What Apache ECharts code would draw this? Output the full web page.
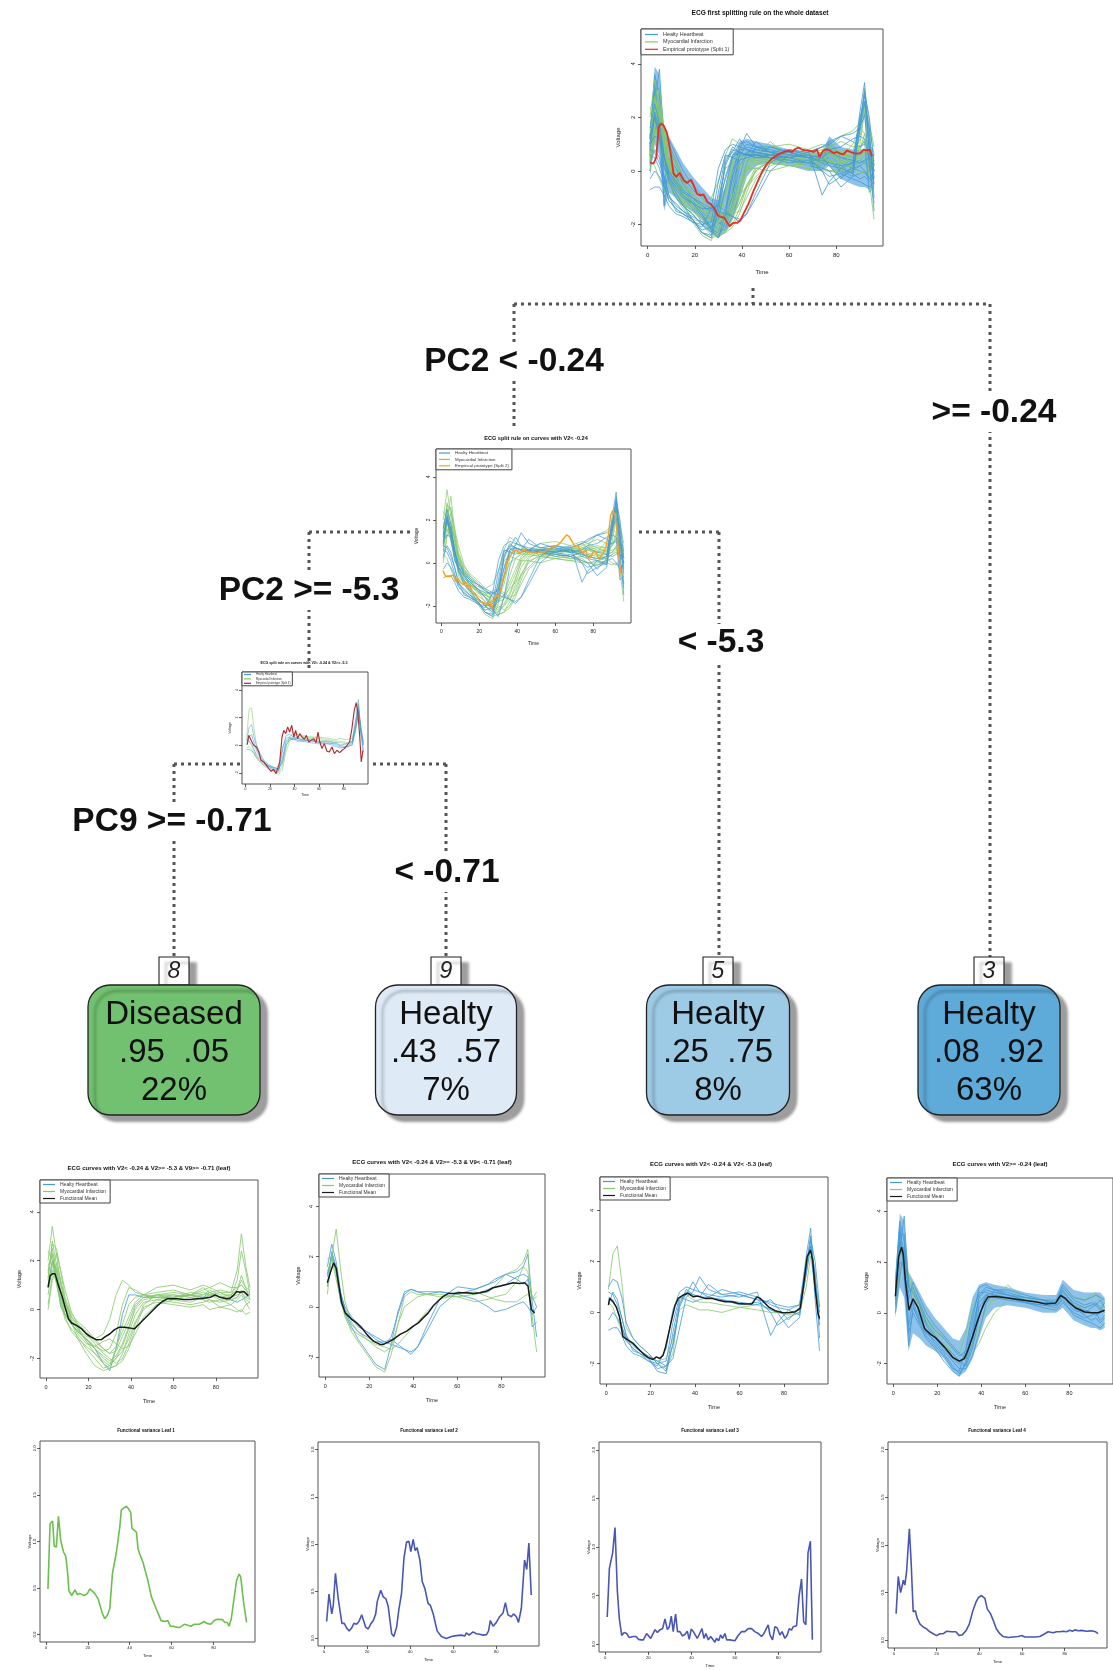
<!DOCTYPE html>
<html>
<head>
<meta charset="utf-8">
<script src="https://cdn.jsdelivr.net/npm/echarts@6.0.0/dist/echarts.min.js"></script>
<style>
  html, body { margin: 0; padding: 0; background: #fff; }
  #chart { width: 1113px; height: 1670px; }
</style>
</head>
<body>
<div id="chart"></div>
<script>
// ---- data ----
// common sampling grid for the individual ECG curves
const timeGrid = [1,3,5,7,9, 12,15,19,23,27, 30,33,36,39,42, 46,52,60,68,74, 77,82,87,90,92, 94,96];

// leaf 1 (V2< -0.24 & V2>= -5.3 & V9>= -0.71)
const leaf1Green = [
  [1.2,2.8,1.8,0.6,-0.2, -0.6,-0.9,-1.2,-1.5,-1.7, -1.6,-1.0,0.2,0.9,0.8, 0.6,0.5,0.4,0.6,0.5, 0.6,0.5,0.5,1.2,2.4, 1.6,0.6],
  [2.0,3.4,2.2,1.0,0.3, -0.4,-0.8,-1.3,-1.8,-2.1, -2.3,-2.0,-1.5,-0.8,0.1, 0.5,0.6,0.5,0.7,0.6, 0.8,0.6,0.6,0.8,1.2, 0.9,0.4],
  [0.6,1.8,2.3,1.6,0.8, -0.1,-0.6,-1.0,-1.4,-1.8, -2.0,-2.2,-2.0,-1.4,-0.6, 0.2,0.6,0.7,0.6,0.9, 0.7,0.8,0.7,0.9,1.0, 0.8,0.7],
  [1.5,2.5,1.5,0.4,-0.3, -0.9,-1.2,-1.5,-1.8,-2.2, -2.4,-2.3,-1.8,-1.0,-0.2, 0.3,0.4,0.3,0.2,0.3, 0.4,0.1,0.2,0.4,0.6, 0.3,0.0],
  [1.8,2.2,1.4,0.5,0.0, -0.5,-0.8,-1.1,-1.2,-1.0, -0.4,0.6,1.2,1.0,0.7, 0.6,0.5,0.5,0.6,0.7, 0.6,0.7,0.5,0.6,0.7, 0.5,0.4],
  [0.2,1.4,1.9,1.2,0.4, -0.3,-0.7,-1.3,-1.6,-2.0, -2.2,-2.0,-1.7,-1.2,-0.5, 0.0,0.4,0.5,0.6,0.4, 0.3,0.4,0.2,0.0,-0.1, 0.2,0.3],
  [2.4,2.0,1.0,0.2,-0.4, -0.8,-1.1,-1.6,-2.0,-2.4, -2.3,-1.6,-0.6,0.2,0.5, 0.6,0.7,0.8,0.6,0.8, 0.9,0.7,0.7,1.6,3.1, 1.8,0.9],
  [0.9,2.0,1.6,0.8,0.1, -0.5,-1.0,-1.4,-1.5,-1.3, -1.2,-1.4,-1.6,-1.5,-1.0, -0.3,0.2,0.4,0.3,0.5, 0.4,0.3,0.4,0.5,0.8, 0.6,0.5],
  [1.3,2.7,2.5,1.5,0.5, -0.2,-0.5,-0.8,-1.2,-1.6, -1.8,-1.5,-0.9,-0.3,0.3, 0.6,0.9,1.0,0.8,1.0, 0.9,1.1,0.9,0.9,1.0, 0.8,0.6],
  [0.0,1.2,1.7,1.1,0.2, -0.5,-1.2,-1.8,-2.3,-2.5, -2.4,-2.3,-2.1,-1.6,-0.8, 0.1,0.3,0.2,0.1,0.2, 0.0,0.1,0.0,-0.1,0.0, -0.2,-0.1],
  [1.6,2.3,1.2,0.3,-0.2, -0.6,-0.9,-1.2,-1.6,-1.9, -2.1,-1.9,-1.4,-0.7,0.0, 0.4,0.5,0.6,0.5,0.6, 0.7,0.5,0.6,0.8,1.4, 0.9,0.8],
  [1.0,1.6,1.1,0.7,0.3, -0.3,-0.6,-0.9,-1.3,-1.6, -1.8,-1.7,-1.1,-0.5,0.2, 0.5,0.6,0.6,0.5,0.4, 0.6,0.4,0.4,0.5,0.7, 0.4,0.3]
];
const leaf1Blue = [
  [1.0,2.0,1.2,0.1,-0.2, -0.6,-0.9,-1.2,-1.6,-2.2, -2.5,-1.6,-0.2,0.6,0.6, 0.5,0.5,0.5,0.6,0.5, 0.7,0.5,0.4,0.3,0.4, 0.5,0.6]
];
const leaf1Mean = [[1,.91],[2,1.39],[3,1.46],[4.3,1.46],[5.9,.98],[7.5,.57],[9,.1],[10.6,-.38],[12.1,-.55],[14.4,-.65],[16.8,-.79],[19.1,-1.0],[21.4,-1.13],[23.8,-1.24],[26.1,-1.23],[27.6,-1.13],[30,-1.0],[32.3,-.82],[34.6,-.72],[37,-.72],[39.3,-.75],[41.6,-.79],[43.2,-.65],[45.5,-.45],[47.8,-.25],[50.2,-.04],[52.5,.16],[54.8,.33],[57.1,.44],[59.5,.44],[61.8,.44],[64.9,.41],[68,.41],[71.1,.44],[74.2,.46],[77.3,.5],[79.7,.6],[82,.5],[85.1,.44],[86.6,.46],[88.5,.6],[89.8,.74],[91.3,.71],[93.2,.74],[95.2,.57]];

// leaf 2 (V2< -0.24 & V2>= -5.3 & V9< -0.71)
const leaf2Blue = [
  [1.6,2.5,1.8,0.6,-0.1, -0.5,-0.8,-1.0,-1.3,-1.5, -1.2,-0.3,0.5,0.7,0.6, 0.6,0.6,0.5,0.7,0.9, 1.1,1.3,1.4,1.6,2.1, 0.2,-1.2],
  [1.2,2.1,1.5,0.5,0.0, -0.4,-0.7,-1.0,-1.2,-1.4, -1.5,-1.6,-1.7,-1.8,-1.6, -1.0,0.0,0.6,0.5,0.6, 0.8,0.9,1.2,1.3,1.2, 0.4,0.0],
  [1.3,2.0,1.4,0.2,-0.3, -0.8,-1.3,-1.8,-2.3,-2.5, -1.5,-0.2,0.6,0.7,0.6, 0.5,0.6,0.5,0.3,0.0, -0.2,-0.1,0.1,0.2,0.0, -0.3,0.0],
  [0.8,2.2,1.6,0.5,-0.2, -0.7,-1.0,-1.2,-1.4,-1.4, -1.3,-1.5,-1.7,-1.9,-1.6, -0.8,0.3,0.8,0.7,0.9, 1.0,1.3,1.1,0.9,1.1, -0.8,-0.6]
];
const leaf2Green = [
  [0.5,2.0,3.1,1.5,0.2, -0.6,-1.0,-1.3,-1.6,-1.8, -1.6,-0.7,0.4,0.6,0.5, 0.5,0.4,0.4,0.5,0.7, 0.8,1.3,1.5,1.8,2.3, -0.4,-1.8],
  [1.9,2.0,1.3,0.3,-0.4, -1.0,-1.4,-1.9,-2.4,-2.6, -1.9,-0.7,0.0,0.2,0.4, 0.5,0.5,0.4,0.2,0.3, 0.4,0.5,1.0,1.6,1.4, 0.3,0.6],
  [1.4,1.9,1.1,0.3,-0.3, -0.9,-1.1,-1.3,-1.5,-1.6, -1.7,-1.5,-1.2,-0.9,-0.6, -0.2,0.3,0.5,0.6,0.4, 0.3,0.2,0.2,0.4,0.5, 0.3,0.4]
];
const leaf2Mean = [[1,.96],[2.3,1.35],[3.8,1.75],[5,1.55],[6,.96],[7.5,.16],[9.1,-.24],[10.6,-.37],[12.1,-.5],[14.3,-.64],[16.6,-.84],[18.9,-1.1],[21.9,-1.37],[24.9,-1.5],[26.4,-1.5],[28.7,-1.41],[30.9,-1.3],[34,-1.1],[37,-.97],[40,-.77],[42.3,-.64],[44.5,-.44],[46.8,-.24],[49,.03],[51.3,.23],[53.6,.42],[55.8,.53],[58.1,.53],[61.1,.56],[64.2,.56],[67.2,.53],[70.2,.56],[73.2,.62],[76.2,.76],[79.2,.82],[82.3,.89],[85.3,.96],[88.3,.93],[90.6,.96],[92.1,.82],[93.6,-.11],[95.1,-.24]];

// leaf 3 (V2< -0.24 & V2< -5.3)
const leaf3Blue = [
  [-0.7,-0.6,-0.6,-0.9,-1.3, -1.6,-1.7,-1.9,-2.1,-1.4, 0.1,0.8,1.0,0.9,0.8, 0.7,0.6,0.7,0.5,0.4, 0.3,0.2,0.3,1.8,3.0, 1.4,-0.3],
  [1.0,1.3,1.2,0.6,-0.4, -1.0,-1.3,-1.6,-2.0,-2.3, -0.8,0.5,0.7,1.2,0.8, 0.6,0.9,0.7,0.5,0.0, -0.5,-0.2,0.0,1.5,2.6, 0.8,0.0],
  [0.3,0.8,0.5,-0.2,-0.9, -1.3,-1.5,-1.8,-2.3,-2.4, -1.2,0.3,0.9,0.7,0.6, 1.1,0.7,0.8,0.6,0.3, 0.2,-0.3,0.2,2.2,3.3, 0.5,-1.5],
  [0.6,0.5,0.1,-0.5,-1.1, -1.4,-1.6,-1.9,-2.0,-1.9, -0.4,0.6,0.5,0.4,0.5, 0.6,0.5,0.4,0.3,0.5, 0.2,0.1,-0.1,1.9,2.8, 1.1,-0.5],
  [-0.3,0.0,-0.2,-0.6,-1.0, -1.2,-1.5,-1.7,-1.9,-2.1, -1.8,-0.6,0.6,0.8,1.4, 0.9,0.7,0.6,0.8,-0.9, -0.4,0.1,0.3,2.0,2.5, 1.6,-1.0],
  [0.8,0.7,0.3,-0.2,-0.9, -1.5,-1.6,-1.8,-2.2,-2.1, -1.3,0.2,0.8,0.7,0.6, 0.6,0.5,0.3,0.4,0.1, 0.0,-0.6,-0.2,1.6,2.9, 2.0,0.2]
];
const leaf3Green = [
  [0.9,2.3,2.6,1.2,-0.6, -1.0,-1.3,-1.6,-2.0,-2.2, -1.6,0.4,0.7,0.5,0.4, 0.4,0.3,0.2,0.1,0.0, 0.0,0.0,0.1,1.5,2.6, 1.2,0.2],
  [0.4,0.2,-0.3,-0.7,-1.1, -1.4,-1.6,-1.8,-1.9,-1.8, -1.0,0.1,0.3,0.2,0.1, 0.1,0.0,0.2,0.3,0.1, 0.0,-0.1,0.0,1.0,2.2, 0.9,0.0]
];
const leaf3Mean = [[1,.29],[1.5,.55],[3,.42],[4.5,.22],[6,-.17],[7.5,-.95],[9.8,-1.08],[12,-1.2],[14.3,-1.41],[16.6,-1.61],[18.8,-1.76],[21.1,-1.84],[22.6,-1.74],[24.1,-1.8],[25.6,-1.67],[26.7,-1.35],[27.9,-.89],[29.4,-.3],[30.9,.25],[32.4,.55],[34.6,.68],[36.9,.75],[39.2,.61],[41.4,.64],[44.4,.55],[47.4,.55],[50.5,.48],[53.5,.42],[56.5,.42],[59.5,.35],[62.5,.33],[65.5,.33],[67.8,.61],[69.3,.55],[70.8,.42],[73,.22],[76,.07],[79.1,0],[82.1,-.01],[85.1,.03],[87.3,.16],[88.9,1.14],[90.4,2.18],[91.9,2.44],[92.9,2.05],[94.1,.88],[95.3,-.04],[96,-.24]];

// leaf 4 (V2>= -0.24): envelope of the dense healthy bundle plus single curves
const leaf4BandLow  = [-0.2,1.0,0.6,-1.5,-0.8, -1.0,-1.3,-1.5,-1.8,-2.3, -2.5,-2.3,-1.8,-1.0,-0.2, 0.2,0.3,0.2,0.0,0.0, 0.2,-0.3,-0.5,-0.6,-0.6, -0.7,-0.6];
const leaf4BandHigh = [1.5,3.9,3.6,1.6,1.3, 0.8,0.3,-0.2,-0.6,-1.0, -1.1,-0.6,0.6,1.1,1.2, 1.1,1.0,0.8,0.7,0.7, 1.3,0.9,0.8,0.8,0.8, 0.8,0.6];
const leaf4Blue = [
  [0.6,3.2,2.4,-0.5,0.5, 0.1,-0.5,-1.0,-1.4,-1.8, -2.0,-1.7,-0.6,0.6,0.9, 0.8,0.7,0.5,0.4,0.4, 0.9,0.3,0.1,0.0,-0.1, 0.0,0.1],
  [0.9,2.5,3.8,1.0,0.8, 0.3,-0.4,-0.9,-1.3,-1.6, -1.9,-2.1,-1.4,-0.2,0.7, 0.8,0.7,0.6,0.5,0.3, 0.7,0.2,-0.1,-0.3,-0.2, -0.4,-0.2],
  [0.3,2.0,1.8,0.2,0.4, -0.2,-0.7,-1.2,-1.6,-2.1, -2.4,-2.0,-1.2,0.2,0.6, 0.7,0.6,0.4,0.3,0.2, 0.6,0.1,0.0,0.2,0.3, 0.1,0.4],
  [1.2,3.6,2.8,0.8,1.0, 0.4,-0.2,-0.7,-1.0,-1.4, -1.7,-1.5,-0.3,1.0,1.1, 0.9,0.8,0.6,0.5,0.5, 1.1,0.6,0.5,0.6,0.7, 0.6,0.5],
  [0.0,1.4,2.6,1.2,0.3, -0.4,-0.9,-1.3,-1.7,-2.2, -2.3,-1.4,0.0,0.8,0.8, 0.7,0.6,0.4,0.3,0.3, 0.5,-0.1,-0.3,-0.4,-0.5, -0.6,-0.4],
  [0.7,2.8,2.0,-1.3,0.2, -0.3,-0.8,-1.1,-1.5,-1.9, -2.2,-2.2,-1.7,-0.8,0.3, 0.9,0.7,0.5,0.4,0.4, 0.8,0.4,0.2,0.3,0.4, 0.2,0.0],
  [0.5,3.0,3.1,0.5,1.2, 0.6,0.0,-0.5,-0.9,-1.3, -1.6,-1.8,-0.9,0.7,1.0, 0.9,0.9,0.7,0.5,0.4, 1.0,0.5,0.3,0.4,0.3, 0.5,0.2],
  [1.0,3.4,1.4,-0.8,0.0, -0.5,-1.0,-1.4,-1.9,-2.3, -2.5,-1.9,-0.9,0.4,0.7, 0.6,0.5,0.4,0.2,0.1, 0.4,0.0,-0.2,-0.1,0.0, -0.3,-0.1]
];
const leaf4Green = [
  [0.4,2.2,2.6,1.4,0.8, 0.2,-0.4,-0.9,-1.3,-1.7, -1.9,-1.8,-1.3,-0.6,0.1, 0.6,1.1,0.5,0.4,0.4, 0.6,0.6,0.5,0.6,0.7, 0.5,0.4],
  [0.8,2.8,2.0,1.0,0.7, 0.3,-0.3,-0.8,-1.2,-1.6, -1.9,-1.7,-1.6,-1.2,-0.6, 0.0,0.5,0.6,0.4,0.3, 0.4,0.3,0.2,0.3,0.3, 0.2,0.1],
  [0.2,1.6,2.2,1.5,0.9, 0.4,-0.2,-0.6,-1.0,-1.4, -1.6,-0.8,0.3,0.6,0.5, 0.5,0.6,0.6,0.5,0.4, 0.8,0.6,0.5,0.7,0.8, 0.6,0.5]
];
const leaf4Mean = [[1,.65],[2.5,2.2],[3.8,2.58],[4.6,2.3],[5.5,1.3],[7.2,.1],[9,.55],[11.3,.2],[14.3,-.63],[17,-.85],[19.5,-1.0],[23.3,-1.35],[27,-1.75],[30,-1.9],[32.3,-1.8],[34,-1.45],[36,-.95],[38,-.4],[40,.1],[41.5,.4],[43,.62],[46.6,.64],[52,.58],[60,.48],[65,.42],[69,.35],[73.7,.38],[76,.68],[78,.58],[80,.4],[82.7,.2],[87,.03],[90,0],[93,0],[96,.1]];

// curves shown in the third split panel
const split3Blue = [
  [0.3,1.3,1.5,0.6,0.0, -0.6,-1.1,-1.4,-1.6,-1.8, -0.2,0.5,0.6,0.5,0.5, 0.4,0.4,0.2,0.3,0.1, 0.0,0.1,0.3,2.0,3.3, 1.0,-0.5],
  [-0.3,-0.3,-0.4,-0.6,-0.9, -1.2,-1.4,-1.6,-1.8,-1.9, -0.5,0.7,0.8,0.6,0.5, 0.4,0.3,0.3,0.2,0.0, -0.1,-0.2,0.1,1.6,2.8, 0.8,-0.3],
  [0.5,0.3,0.1,-0.3,-0.7, -1.0,-1.3,-1.5,-1.7,-1.8, -1.0,0.3,0.5,0.4,0.4, 0.3,0.4,0.2,0.1,0.2, 0.0,-0.1,0.0,1.2,2.4, 1.4,0.0],
  [0.0,0.6,0.8,0.2,-0.4, -0.9,-1.2,-1.5,-1.6,-1.7, -1.3,0.0,0.4,0.5,0.3, 0.3,0.2,0.1,0.1,-0.1, -0.2,-0.1,0.2,1.4,2.6, 1.2,0.3]
];
const split3Green = [
  [0.6,2.6,2.7,1.2,0.0, -0.7,-1.2,-1.5,-1.8,-2.0, -1.5,-0.2,0.6,0.9,0.8, 0.7,0.6,0.6,0.5,0.4, 0.5,0.4,0.5,1.8,3.0, 1.0,0.2],
  [-0.2,-0.1,-0.3,-0.6,-0.9, -1.2,-1.5,-1.7,-1.9,-2.1, -1.8,-0.5,0.3,0.6,0.8, 0.6,0.6,0.5,0.4,0.3, 0.3,0.2,0.3,1.5,2.6, 1.1,0.1],
  [0.1,0.3,0.0,-0.4,-0.8, -1.1,-1.3,-1.5,-1.6,-1.7, -1.2,0.2,0.5,0.4,0.6, 0.5,0.5,0.4,0.3,0.2, 0.2,0.1,0.2,1.2,2.3, 0.9,0.0]
];

// empirical prototypes of the three splits
const proto1 = [[1.1,.31],[2.5,.27],[3.7,.52],[4.7,1.64],[5.7,1.77],[6.8,1.7],[8.2,1.42],[9.6,.77],[11,-.1],[12.2,-.22],[13.6,-.07],[15.3,-.35],[16.7,-.45],[18.4,-.32],[19.5,-.53],[20.9,-.85],[22.3,-.91],[23.7,-.87],[25.4,-1.16],[26.9,-1.24],[28.3,-1.4],[29.7,-1.65],[30.8,-1.71],[32.5,-1.74],[33.6,-1.9],[34.8,-2.06],[36.2,-1.94],[37.9,-1.94],[39.3,-1.84],[40.7,-1.59],[42.8,-1.22],[45,-.72],[46.6,-.41],[48.5,-.04],[50.6,.27],[52.7,.46],[55.5,.62],[57.7,.71],[59.8,.75],[61.2,.71],[62.6,.82],[64,.87],[65.4,.8],[66.9,.77],[69,.75],[70.4,.71],[71.8,.8],[72.9,.52],[74.3,.75],[75.8,.81],[77.5,.75],[78.9,.67],[80.3,.71],[81.7,.65],[83.1,.62],[84.5,.77],[85.9,.71],[87.4,.67],[88.8,.65],[90.2,.67],[91.6,.8],[93,.77],[94.1,.8],[95.1,.55]];
const proto2 = [[.9,-.36],[2.3,-.64],[4.4,-.64],[6.2,-.56],[7.6,-.87],[8.8,-.72],[10,-.9],[11.4,-1.02],[12.7,-.87],[13.7,-1.13],[14.9,-1.02],[16.3,-1.41],[17.6,-1.41],[18.8,-1.61],[20.2,-1.8],[21.6,-1.83],[22.8,-1.88],[24.1,-1.95],[25.5,-1.8],[26.7,-2.14],[27.8,-1.72],[29,-1.49],[30.2,-1.57],[31.3,-1.18],[32.5,-.72],[33.7,-.41],[34.6,.06],[36,.29],[37.3,.44],[38.7,.6],[40.1,.55],[41.3,.44],[43.1,.6],[44.8,.55],[46.6,.47],[48.3,.55],[50.1,.44],[51.8,.52],[53.6,.44],[55.4,.6],[57.1,.67],[58.9,.75],[60.6,.8],[62.4,.91],[64.1,1.11],[65.9,1.3],[67.3,1.22],[68.9,.98],[70.3,.75],[71.7,.83],[73.3,.55],[74.7,.44],[76.1,.6],[77.3,.21],[78.7,.29],[80,.52],[81.2,.55],[82.6,.21],[83.8,.29],[85.2,.44],[86.6,.75],[87.9,1.29],[89.1,2.22],[90.2,2.45],[91.4,2.22],[92.6,1.29],[93.7,.06],[94.4,-.48],[95.4,-.53]];
const proto3 = [[1.4,.05],[2.7,.72],[4.6,.36],[6.8,0],[8.9,-.12],[10.8,-.48],[12.7,-1.08],[14.9,-1.2],[17.1,-1.45],[19,-1.69],[20.9,-1.88],[23,-1.73],[24.9,-2.05],[26.3,-2.17],[27.9,-1.2],[29.8,.6],[31.2,1.08],[32.8,.84],[34.4,1.33],[36,.96],[37.7,1.45],[39.3,.6],[40.9,1.08],[42.5,.48],[44.2,.84],[46.1,.6],[48,.43],[49.6,.72],[51.5,.24],[53.4,.36],[55.6,.48],[57.5,.19],[59.1,.96],[60.4,.29],[62.3,-.24],[64.2,.12],[66.4,-.43],[68.3,-.48],[70.5,-.12],[72.4,-.6],[74.5,-.36],[76.7,-.53],[78.6,-.36],[80.5,-.24],[82.7,0],[84.8,.24],[86.7,1.2],[88.6,2.53],[90.2,3.08],[91.6,2.29],[93,.72],[94.3,-1.2],[95.7,-.36]];

// functional variance per leaf
const variance1 = [[1,.49],[2,1.19],[3.2,1.22],[4,.95],[5,.94],[6,1.27],[7.1,1.01],[8.4,.89],[9.5,.84],[10.4,.66],[11,.47],[12.3,.42],[13.1,.41],[13.9,.48],[15,.43],[16.3,.44],[17,.45],[18.3,.42],[19.8,.44],[21,.49],[21.8,.51],[23.4,.44],[25,.38],[25.9,.37],[26.9,.23],[28.1,.17],[29.4,.21],[30.5,.28],[31.8,.66],[33.7,.89],[35.3,1.16],[36,1.34],[38.4,1.38],[39.5,1.35],[40.5,1.31],[41.1,1.14],[42,1.15],[43.2,1.1],[44,.92],[45.2,.84],[46.3,.78],[48.7,.58],[50.3,.41],[52.6,.28],[55,.15],[56.9,.14],[58.2,.15],[59.4,.09],[61,.09],[62,.08],[63.7,.075],[66,.11],[67.7,.1],[69.2,.09],[70.8,.11],[73.2,.11],[75.6,.14],[76.8,.12],[78.7,.11],[80.3,.15],[81.9,.165],[84.3,.16],[85.4,.13],[86.6,.13],[87.4,.09],[88.5,.17],[89.8,.39],[91,.58],[92.2,.65],[93,.62],[94.2,.37],[95.8,.13]];
const variance2 = [[1.2,.18],[2.3,.47],[3.6,.26],[4.3,.35],[5.3,.69],[6.6,.42],[7.4,.41],[8.3,.16],[9.4,.16],[10.5,.11],[11.7,.08],[12.8,.11],[13.9,.16],[15.1,.15],[16.2,.18],[17.5,.25],[18.2,.23],[19.3,.12],[20.5,.1],[21.6,.15],[22.9,.19],[24,.26],[24.7,.39],[26.3,.51],[27.5,.44],[28.7,.42],[29.8,.34],[30.6,.19],[31.4,.05],[32.4,.02],[33.7,.12],[34.7,.3],[36,.48],[37.1,.85],[38.3,1.02],[39.4,1.03],[40.3,.92],[41.4,1.05],[42.3,.93],[43.2,.96],[44.5,.83],[45.6,.6],[46.8,.53],[47.6,.54],[48.3,.37],[49.4,.35],[50.7,.26],[51.4,.19],[52.5,.08],[54.5,.02],[56.8,0],[59.2,.02],[61.5,.03],[63.8,.035],[65.3,.025],[66.1,.06],[67.3,.035],[69.2,.07],[70.7,.05],[72.3,.045],[73.8,.035],[75.4,.04],[76.4,.08],[77.2,.19],[78.5,.13],[80,.17],[81.5,.23],[83.1,.27],[84.2,.38],[85.4,.25],[87,.23],[88,.26],[89.3,.23],[90.3,.17],[91.6,.32],[93.1,.83],[94.1,.73],[95.1,1.01],[96.2,.46]];
const variance3 = [[1,.28],[2,.78],[2.6,.78],[3.5,.94],[4.6,1.2],[5.7,.54],[6.6,.26],[7.7,.09],[8.8,.12],[10,.11],[11.1,.07],[11.8,.05],[13.1,.08],[14.3,.08],[15.4,.05],[16.6,.045],[17.7,.045],[18.6,.035],[19.2,.11],[20,.12],[21.1,.06],[22,.07],[23.1,.15],[24.2,.12],[25.4,.15],[26.6,.16],[27.7,.26],[28.8,.15],[29.7,.18],[30.6,.29],[31.5,.13],[32.6,.31],[33.5,.13],[34.6,.13],[35.7,.085],[36.9,.1],[38,.135],[38.9,.05],[39.8,.155],[40.8,.13],[41.5,.15],[42.6,.06],[43.5,.1],[44.8,.16],[45.7,.06],[46.6,.11],[47.7,.045],[48.8,.08],[49.7,.06],[50.8,.02],[51.5,.06],[52.5,.035],[53.4,.095],[54.3,.06],[55.4,.11],[56.2,.045],[57.7,.045],[60,.035],[61.5,.09],[63.1,.13],[64.6,.13],[66.2,.16],[67.7,.16],[69.2,.13],[70.8,.11],[72.3,.08],[73.4,.11],[74.3,.15],[75.4,.2],[76.2,.095],[77.4,.045],[78.5,.18],[79.5,.17],[80.8,.095],[81.8,.13],[83.1,.06],[84.2,.095],[85.1,.16],[86.2,.145],[86.9,.18],[88.5,.19],[89.7,.5],[90.8,.67],[91.8,.23],[92.8,.2],[93.8,.94],[94.9,1.06],[95.8,.045]];
const variance4 = [[1,.28],[2,.67],[3.1,.5],[4.4,.63],[5.1,.58],[5.9,.72],[7.2,1.17],[8,.84],[9,.3],[10,.31],[10.9,.23],[12.2,.17],[13.7,.14],[15.3,.12],[16.8,.09],[18.4,.07],[20,.05],[21.5,.07],[23.1,.07],[24.6,.095],[27,.09],[29,.09],[30.6,.05],[32.1,.06],[33.7,.1],[35.3,.17],[36.8,.3],[38.4,.4],[39.6,.45],[41,.47],[42.6,.44],[43.7,.33],[45.2,.28],[46.5,.21],[48,.12],[49.6,.07],[51.2,.04],[53.5,.03],[55.8,.035],[58.2,.04],[59.8,.05],[61.3,.035],[63.7,.035],[66,.035],[68.3,.04],[70.7,.07],[72.2,.09],[74.6,.08],[76.1,.09],[77.7,.09],[79.3,.095],[80.8,.09],[82.4,.105],[83.6,.095],[84.7,.11],[86.3,.1],[87.8,.105],[90.2,.095],[92.5,.1],[94.5,.09],[95.6,.07]];

// tick labels
const timeTicks = [0, 20, 40, 60, 80];
const voltageTicks = [-2, 0, 2, 4];
const varianceTicks = [0, 0.5, 1, 1.5, 2];

// tree content
const splitLabels = ['PC2 < -0.24', '>= -0.24', 'PC2 >= -5.3', '< -5.3', 'PC9 >= -0.71', '< -0.71'];
const nodeIds = ['8', '9', '5', '3'];
const nodeClasses = ['Diseased', 'Healty', 'Healty', 'Healty'];
const nodeProbDiseased = ['.95', '.43', '.25', '.08'];
const nodeProbHealthy = ['.05', '.57', '.75', '.92'];
const nodeShares = ['22%', '7%', '8%', '63%'];

const panelTitles = [
  'ECG first splitting rule on the whole dataset',
  'ECG split rule on curves with V2< -0.24',
  'ECG split rule on curves with V2< -0.24 & V2>= -5.3',
  'ECG curves with V2< -0.24 & V2>= -5.3 & V9>= -0.71 (leaf)',
  'ECG curves with V2< -0.24 & V2>= -5.3 & V9< -0.71 (leaf)',
  'ECG curves with V2< -0.24 & V2< -5.3 (leaf)',
  'ECG curves with V2>= -0.24 (leaf)',
  'Functional variance Leaf 1',
  'Functional variance Leaf 2',
  'Functional variance Leaf 3',
  'Functional variance Leaf 4'
];

// ---- layout / style ----
const FONT = '"Liberation Sans", Arial, Helvetica, sans-serif';
const BLUE = '#4499d8';
const GREEN = '#86c86c';
const INK = '#222';

// plot boxes in px, font sizes and label gaps
const panels = [
  { x: 641, y: 29,   w: 242, h: 217, kind: 'ecg', fs: 6,   xm: 6, ym: 5, xg: 23, yg: 20, tx: 760,  ty: 13,   tfs: 6.6 },
  { x: 436, y: 449,  w: 195, h: 174, kind: 'ecg', fs: 5,   xm: 6, ym: 5, xg: 18, yg: 17, tx: 536,  ty: 438,  tfs: 5.6 },
  { x: 242, y: 672,  w: 126, h: 112, kind: 'ecg', fs: 3.5, xm: 3, ym: 3, xg: 9,  yg: 10, tx: 304,  ty: 663,  tfs: 3.6 },
  { x: 40,  y: 1180, w: 218, h: 198, kind: 'ecg', fs: 5.5, xm: 6, ym: 5, xg: 20, yg: 18, tx: 149,  ty: 1168, tfs: 6 },
  { x: 319, y: 1174, w: 226, h: 203, kind: 'ecg', fs: 5.5, xm: 6, ym: 5, xg: 20, yg: 18, tx: 432,  ty: 1162, tfs: 6 },
  { x: 600, y: 1177, w: 228, h: 207, kind: 'ecg', fs: 5.5, xm: 6, ym: 5, xg: 20, yg: 18, tx: 711,  ty: 1164, tfs: 6 },
  { x: 887, y: 1178, w: 228, h: 206, kind: 'ecg', fs: 5.5, xm: 6, ym: 5, xg: 20, yg: 18, tx: 1000, ty: 1164, tfs: 6 },
  { x: 40,  y: 1441, w: 215, h: 201, kind: 'var', fs: 4.2, xm: 4, ym: 3, xg: 12, yg: 8,  tx: 146,  ty: 1431, tfs: 4.6 },
  { x: 318, y: 1442, w: 221, h: 204, kind: 'var', fs: 4.2, xm: 4, ym: 3, xg: 12, yg: 8,  tx: 429,  ty: 1431, tfs: 4.6 },
  { x: 599, y: 1442, w: 222, h: 210, kind: 'var', fs: 4.2, xm: 4, ym: 3, xg: 12, yg: 8,  tx: 710,  ty: 1431, tfs: 4.6 },
  { x: 888, y: 1442, w: 219, h: 206, kind: 'var', fs: 4.2, xm: 4, ym: 3, xg: 12, yg: 8,  tx: 997,  ty: 1431, tfs: 4.6 }
];

const grids = [], xAxes = [], yAxes = [];
panels.forEach((p, g) => {
  grids.push({ left: p.x, top: p.y, width: p.w, height: p.h, show: true, borderColor: '#555', borderWidth: 1 });
  const tick = { show: true, length: 3, lineStyle: { color: '#333', width: 0.8 } };
  xAxes.push({
    type: 'value', gridIndex: g, min: -2.8, max: 99.8, position: 'bottom',
    axisLine: { show: false, onZero: false }, splitLine: { show: false },
    axisTick: Object.assign({ customValues: timeTicks }, tick),
    axisLabel: { customValues: timeTicks, fontSize: p.fs, color: INK, margin: p.xm, fontFamily: FONT },
    name: 'Time', nameLocation: 'middle', nameGap: p.xg,
    nameTextStyle: { fontSize: p.fs, color: INK, fontFamily: FONT }
  });
  const isVar = p.kind === 'var';
  const yt = isVar ? varianceTicks : voltageTicks;
  yAxes.push({
    type: 'value', gridIndex: g, position: 'left',
    min: isVar ? -0.08 : -2.8, max: isVar ? 2.08 : 5.3,
    axisLine: { show: false, onZero: false }, splitLine: { show: false },
    axisTick: Object.assign({ customValues: yt }, tick),
    axisLabel: {
      customValues: yt, rotate: 90, fontSize: p.fs, color: INK, margin: p.ym, fontFamily: FONT,
      formatter: v => isVar ? v.toFixed(1) : String(v)
    },
    name: 'Voltage', nameLocation: 'middle', nameGap: p.yg, nameRotate: 90,
    nameTextStyle: { fontSize: p.fs, color: INK, fontFamily: FONT }
  });
});

const series = [];
function addCurves(list, name, color, g, width, opacity) {
  list.forEach(vals => series.push({
    type: 'line', name, xAxisIndex: g, yAxisIndex: g,
    data: timeGrid.map((t, i) => [t, vals[i]]),
    symbol: 'none', silent: true, z: 2,
    lineStyle: { color, width, opacity }, itemStyle: { color }
  }));
}
function addPairs(pairs, name, color, g, width, z) {
  series.push({
    type: 'line', name, xAxisIndex: g, yAxisIndex: g, data: pairs,
    symbol: 'none', silent: true, z: z || 3,
    lineStyle: { color, width }, itemStyle: { color }
  });
}
// the dense healthy bundle drawn as a filled envelope polygon (low edge, then high edge reversed)
function addBand(g) {
  series.push({
    type: 'custom', name: 'band', xAxisIndex: g, yAxisIndex: g, silent: true, z: 1,
    data: timeGrid.map((t, i) => [t, leaf4BandLow[i], leaf4BandHigh[i]]),
    encode: { x: 0, y: [1, 2] },
    renderItem: (params, api) => {
      if (params.dataIndex !== 0) return null;
      const lower = timeGrid.map((t, i) => api.coord([t, leaf4BandLow[i]]));
      const upper = timeGrid.map((t, i) => api.coord([t, leaf4BandHigh[i]])).reverse();
      return {
        type: 'polygon',
        shape: { points: lower.concat(upper) },
        style: { fill: BLUE, opacity: 0.6 }
      };
    }
  });
}

const HB = 'Healty Heartbeat', MI = 'Myocardial Infarction', FM = 'Functional Mean';

// panel 0: whole dataset
addBand(0);
addCurves(leaf4Blue, HB, BLUE, 0, 0.9, 0.9);
addCurves(leaf1Green, MI, GREEN, 0, 0.9, 0.9);
addCurves(leaf2Green, MI, GREEN, 0, 0.9, 0.9);
addCurves(leaf3Green, MI, GREEN, 0, 0.9, 0.9);
addCurves(leaf4Green, MI, GREEN, 0, 0.9, 0.9);
addCurves(leaf1Blue, HB, BLUE, 0, 0.9, 0.9);
addCurves(leaf2Blue, HB, BLUE, 0, 0.9, 0.9);
addCurves(leaf3Blue, HB, BLUE, 0, 0.9, 0.9);
addPairs(proto1, 'Empirical prototype (Split 1)', '#ee2a24', 0, 1.8, 5);

// panel 1: V2 < -0.24
addCurves(leaf1Green, MI, GREEN, 1, 0.8, 0.9);
addCurves(leaf2Green, MI, GREEN, 1, 0.8, 0.9);
addCurves(leaf3Green, MI, GREEN, 1, 0.8, 0.9);
addCurves(leaf1Blue, HB, BLUE, 1, 0.8, 0.9);
addCurves(leaf2Blue, HB, BLUE, 1, 0.8, 0.9);
addCurves(leaf3Blue, HB, BLUE, 1, 0.8, 0.9);
addPairs(proto2, 'Empirical prototype (Split 2)', '#f7a21b', 1, 1.4, 5);

// panel 2: third split
addCurves(split3Green, MI, GREEN, 2, 0.6, 0.9);
addCurves(split3Blue, HB, BLUE, 2, 0.6, 0.9);
addPairs(proto3, 'Empirical prototype (Split 3)', '#b3262a', 2, 1.1, 5);

// leaves
addCurves(leaf1Blue, HB, BLUE, 3, 0.9, 0.9);
addCurves(leaf1Green, MI, GREEN, 3, 0.9, 0.9);
addPairs(leaf1Mean, FM, '#1a1a1a', 3, 1.5, 5);
addCurves(leaf2Blue, HB, BLUE, 4, 0.9, 0.9);
addCurves(leaf2Green, MI, GREEN, 4, 0.9, 0.9);
addPairs(leaf2Mean, FM, '#1a1a1a', 4, 1.5, 5);
addCurves(leaf3Green, MI, GREEN, 5, 0.9, 0.9);
addCurves(leaf3Blue, HB, BLUE, 5, 0.9, 0.9);
addPairs(leaf3Mean, FM, '#1a1a1a', 5, 1.5, 5);
addBand(6);
addCurves(leaf4Green, MI, GREEN, 6, 0.9, 0.9);
addCurves(leaf4Blue, HB, BLUE, 6, 0.9, 0.9);
addPairs(leaf4Mean, FM, '#1a1a1a', 6, 1.5, 5);

// variance
addPairs(variance1, 'Variance Leaf 1', '#6cbf4e', 7, 1.6);
addPairs(variance2, 'Variance Leaf 2', '#4a56b6', 8, 1.6);
addPairs(variance3, 'Variance Leaf 3', '#4a56b6', 9, 1.6);
addPairs(variance4, 'Variance Leaf 4', '#4a56b6', 10, 1.6);

// legends inside the ECG panels
function legendAt(p, names, fs, iw, gap, pad) {
  return {
    orient: 'vertical', left: p.x, top: p.y, data: names, selectedMode: false,
    icon: 'rect', itemWidth: iw, itemHeight: 1.2, itemGap: gap, padding: pad,
    borderColor: '#444', borderWidth: 1, backgroundColor: '#fff', borderRadius: 0,
    textStyle: { fontSize: fs, color: '#333', fontFamily: FONT }
  };
}
const legends = [
  legendAt(panels[0], [HB, MI, 'Empirical prototype (Split 1)'], 5.4, 13, 2.4, [3, 4, 3, 4]),
  legendAt(panels[1], [HB, MI, 'Empirical prototype (Split 2)'], 4.4, 11, 2.4, [2, 3, 2, 3]),
  legendAt(panels[2], [HB, MI, 'Empirical prototype (Split 3)'], 2.8, 7, 1.4, [1, 2, 1, 2]),
  legendAt(panels[3], [HB, MI, FM], 5, 12, 2, [2, 4, 2, 3]),
  legendAt(panels[4], [HB, MI, FM], 5, 12, 2, [2, 4, 2, 3]),
  legendAt(panels[5], [HB, MI, FM], 5, 12, 2, [2, 4, 2, 3]),
  legendAt(panels[6], [HB, MI, FM], 5, 12, 2, [2, 4, 2, 3])
];

// ---- tree drawing ----
const graphics = [];
function txt(x, y, text, font, extra) {
  graphics.push({
    type: 'text', x, y, z: 20, silent: true,
    style: Object.assign({ text, font, fill: '#111', align: 'center', verticalAlign: 'middle',
                           textAlign: 'center', textVerticalAlign: 'middle' }, extra || {})
  });
}
panels.forEach((p, i) => txt(p.tx, p.ty, panelTitles[i], 'bold ' + p.tfs + 'px ' + FONT));

const DOT = { stroke: '#555', lineWidth: 3, lineDash: [3, 4] };
const edges = [
  [753, 288, 753, 304], [514, 304, 990, 304], [514, 304, 514, 426], [990, 304, 990, 957],
  [309, 532, 410, 532], [639, 532, 719, 532], [309, 532, 309, 671], [719, 532, 719, 957],
  [174, 764, 240, 764], [373, 764, 446, 764], [174, 764, 174, 957], [446, 764, 446, 957]
];
edges.forEach(e => graphics.push({
  type: 'line', z: 10, silent: true,
  shape: { x1: e[0], y1: e[1], x2: e[2], y2: e[3] }, style: Object.assign({}, DOT)
}));

const splitPos = [[514, 362], [994, 413], [309, 591], [721, 643], [172, 822], [447, 873]];
splitLabels.forEach((s, i) => txt(splitPos[i][0], splitPos[i][1], s, 'bold 33.5px ' + FONT,
  { backgroundColor: '#fff', padding: [2, 4] }));

const nodeCx = [174, 446, 718, 989];
const nodeW = [172, 141, 143, 142];
const nodeFill = ['#72c170', '#deeaf6', '#9dcbe6', '#5eaad8'];
const SHADOW = { shadowBlur: 3, shadowOffsetX: 7, shadowOffsetY: 6, shadowColor: 'rgba(0,0,0,0.38)' };
nodeIds.forEach((id, i) => {
  const cx = nodeCx[i], w = nodeW[i];
  graphics.push({
    type: 'rect', z: 15, silent: true,
    shape: { x: cx - w / 2, y: 985, width: w, height: 130, r: 22 },
    style: Object.assign({ fill: nodeFill[i], stroke: '#222', lineWidth: 1.3 }, SHADOW)
  });
  graphics.push({
    type: 'rect', z: 14, silent: true,
    shape: { x: cx - 15, y: 957, width: 30, height: 28 },
    style: Object.assign({ fill: '#fff', stroke: '#222', lineWidth: 1.1 }, SHADOW)
  });
  txt(cx, 972, id, 'italic 23px ' + FONT, { fill: '#222' });
  txt(cx, 1015, nodeClasses[i], '33px ' + FONT);
  txt(cx, 1053, nodeProbDiseased[i] + '  ' + nodeProbHealthy[i], '33px ' + FONT);
  txt(cx, 1091, nodeShares[i], '33px ' + FONT);
});

const chart = echarts.init(document.getElementById('chart'), null, { renderer: 'canvas' });
chart.setOption({
  animation: false,
  backgroundColor: '#fff',
  grid: grids,
  xAxis: xAxes,
  yAxis: yAxes,
  legend: legends,
  series: series,
  graphic: { elements: graphics }
});
</script>
</body>
</html>
